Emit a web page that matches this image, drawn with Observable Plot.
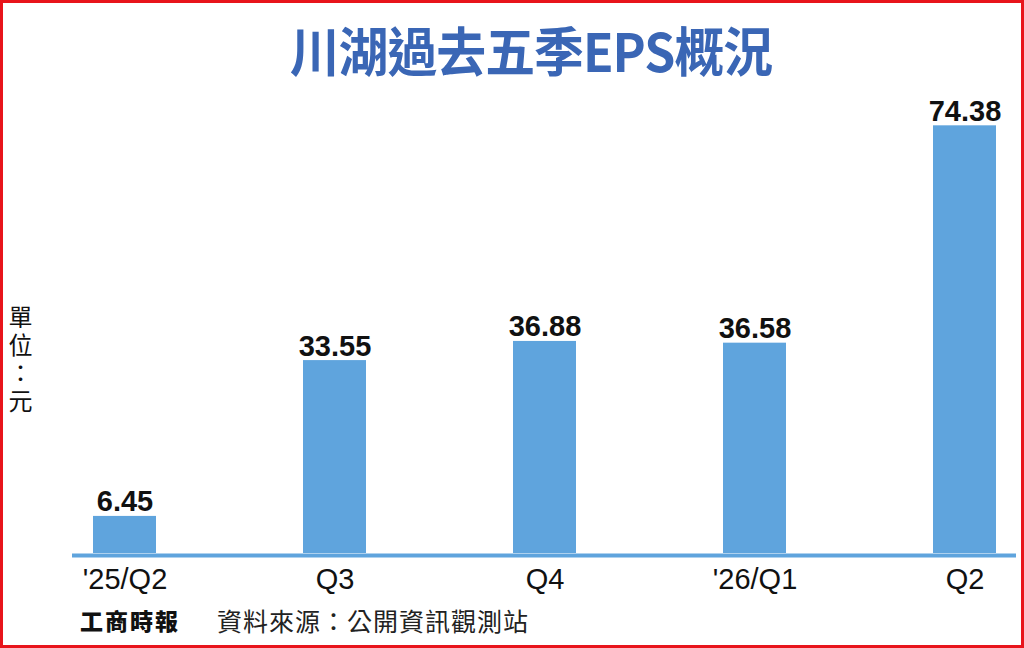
<!DOCTYPE html>
<html>
<head>
<meta charset="utf-8">
<script src="https://cdn.jsdelivr.net/npm/d3@7"></script>
<script src="https://cdn.jsdelivr.net/npm/@observablehq/plot@0.6"></script>
<style>
  html, body { margin: 0; padding: 0; background: #fff; }
  #wrap { position: relative; width: 1024px; height: 648px; overflow: hidden; background: #fff; font-family: "Liberation Sans", Arial, sans-serif; }
  #border { position: absolute; left: 0; top: 0; width: 1024px; height: 648px; box-sizing: border-box; border: 3px solid #e8141b; pointer-events: none; z-index: 5; }
  #title { position: absolute; left: 0; top: 18px; width: 1062px; text-align: center; color: #3a66b5; font-family: "Noto Sans CJK TC", sans-serif; font-weight: 700; font-size: 53px; line-height: 62px; letter-spacing: -1px; transform: scaleX(0.94); transform-origin: 530px 0; }
  #unit { position: absolute; left: 7px; top: 305px; writing-mode: vertical-rl; font-family: "Noto Sans CJK TC", sans-serif; font-size: 24px; line-height: 26px; color: #111; letter-spacing: 4px; }
  #logo { position: absolute; left: 80px; top: 603px; font-family: "Noto Sans CJK TC", sans-serif; font-weight: 900; font-size: 23px; color: #111; letter-spacing: 2px; }
  #source { position: absolute; left: 217px; top: 602px; font-family: "Noto Sans CJK TC", sans-serif; font-weight: 400; font-size: 25px; color: #222; letter-spacing: 1px; }
  #chart { position: absolute; left: 0; top: 0; }
</style>
</head>
<body>
<div id="wrap">
  <div id="chart"></div>
  <div id="title">川湖過去五季EPS概況</div>
  <div id="unit">單位：元</div>
  <div id="logo">工商時報</div>
  <div id="source">資料來源：公開資訊觀測站</div>
  <div id="border"></div>
</div>
<script>
const quarters = ["'25/Q2", "Q3", "Q4", "'26/Q1", "Q2"];
const eps = [6.45, 33.55, 36.88, 36.58, 74.38];
const labels = ["6.45", "33.55", "36.88", "36.58", "74.38"];

const data = quarters.map((q, i) => ({q, v: eps[i], label: labels[i]}));
const barColor = "#5fa4dd";

const chart = Plot.plot({
  width: 1024,
  height: 600,
  marginLeft: 72,
  marginRight: 8,
  marginTop: 93,
  marginBottom: 47,
  style: {fontFamily: "'Liberation Sans', Arial, sans-serif", background: "transparent", overflow: "visible"},
  x: {domain: quarters, paddingInner: 0.7, paddingOuter: 0.09, label: null},
  y: {domain: [0, 80], axis: null},
  marks: [
    Plot.barY(data, {x: "q", y: "v", fill: barColor}),
    Plot.ruleY([0], {stroke: barColor, strokeWidth: 4, dy: 2}),
    Plot.text(data, {x: "q", y: "v", text: "label", dy: -5, lineAnchor: "bottom", fontSize: 29, fontWeight: "bold", fill: "#111"}),
    Plot.axisX({tickSize: 0, tickPadding: 15, fontSize: 29, color: "#111", label: null})
  ]
});
document.getElementById("chart").appendChild(chart);
</script>
</body>
</html>
